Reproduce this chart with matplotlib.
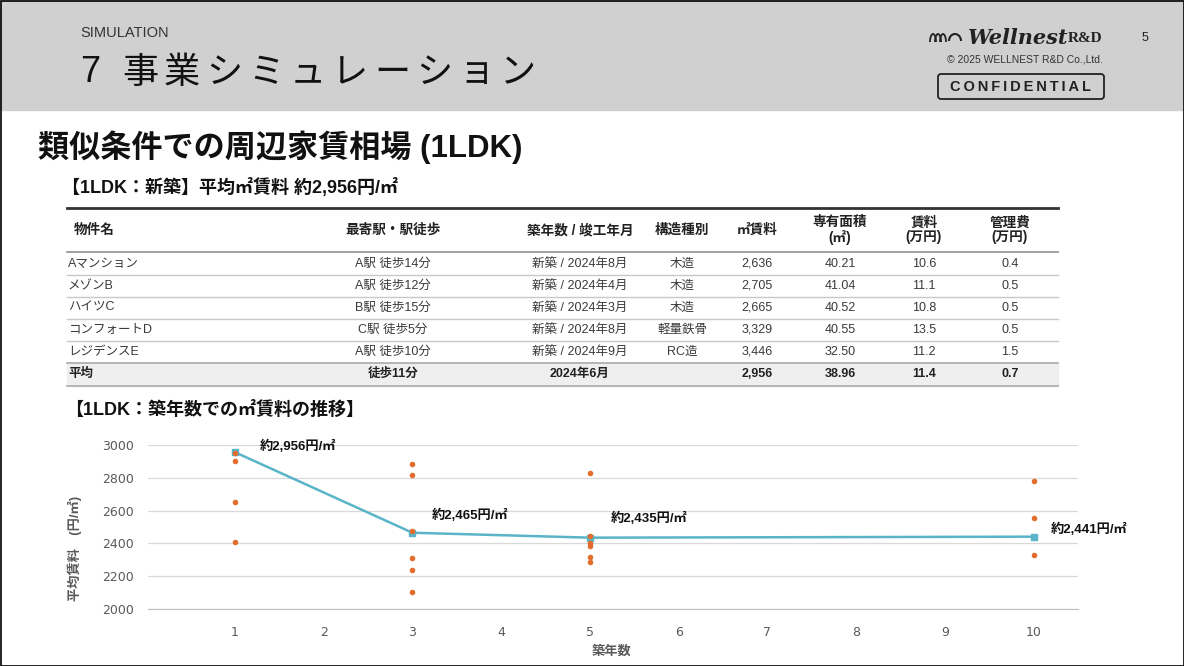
import matplotlib
matplotlib.use('Agg')
import matplotlib.pyplot as plt
from matplotlib.patches import Rectangle, FancyBboxPatch, Arc

plt.rcParams['font.family'] = ['Liberation Sans', 'Noto Sans CJK JP', 'DejaVu Sans']

# table data
col_heads = ['物件名', '最寄駅・駅徒歩', '築年数 / 竣工年月', '構造種別', '㎡賃料',
             '専有面積\n(㎡)', '賃料\n(万円)', '管理費\n(万円)']
names = ['Aマンション', 'メゾンB', 'ハイツC', 'コンフォートD', 'レジデンスE']
stations = ['A駅 徒歩14分', 'A駅 徒歩12分', 'B駅 徒歩15分', 'C駅 徒歩5分', 'A駅 徒歩10分']
built = ['新築 / 2024年8月', '新築 / 2024年4月', '新築 / 2024年3月', '新築 / 2024年8月', '新築 / 2024年9月']
structure = ['木造', '木造', '木造', '軽量鉄骨', 'RC造']
unit_rent = ['2,636', '2,705', '2,665', '3,329', '3,446']
area = ['40.21', '41.04', '40.52', '40.55', '32.50']
rent = ['10.6', '11.1', '10.8', '13.5', '11.2']
fee = ['0.4', '0.5', '0.5', '0.5', '1.5']
avg_row = ['平均', '徒歩11分', '2024年6月', '', '2,956', '38.96', '11.4', '0.7']

# chart data
age_years = [1, 3, 5, 10]
avg_rent = [2956, 2465, 2435, 2441]
avg_labels = ['約2,956円/㎡', '約2,465円/㎡', '約2,435円/㎡', '約2,441円/㎡']
sample_x = [1, 1, 1, 1, 3, 3, 3, 3, 3, 3, 5, 5, 5, 5, 5, 5, 10, 10, 10]
sample_y = [2950, 2900, 2650, 2410,
            2886, 2815, 2475, 2308, 2237, 2101,
            2830, 2446, 2400, 2383, 2315, 2284,
            2779, 2552, 2327]

W, H = 1184, 666
fig = plt.figure(figsize=(W / 100, H / 100), dpi=100)

# slide background in pixel coords
bg = fig.add_axes([0, 0, 1, 1])
bg.set_xlim(0, W)
bg.set_ylim(H, 0)
bg.axis('off')

bg.add_patch(Rectangle((0, 0), W, 110, color='#d0d0d0', zorder=0))
bg.add_patch(Rectangle((0.5, 0.5), W - 1, H - 1, fill=False, ec='black', lw=1.2, zorder=5))

bg.text(80, 33, 'SIMULATION', fontsize=10.5, color='#333333', va='center')
bg.text(80, 73, '7', fontsize=26, color='#111111', va='center')
for i, ch in enumerate('事業シミュレーション'):
    bg.text(122 + i * 42, 73, ch, fontsize=26, color='#111111', va='center',
            family=['Noto Sans CJK JP'])

# logo
for k in range(3):
    bg.add_artist(Arc((933 + k * 5, 42), 6, 16, theta1=180, theta2=360, lw=1.3, color='#222222'))
bg.add_artist(Arc((955, 41), 12, 14, theta1=180, theta2=360, lw=1.5, color='#222222'))
bg.text(968, 38, 'Wellnest', fontsize=15, style='italic', weight='bold',
        family=['DejaVu Serif'], color='#222222', va='center')
bg.text(1068, 39, 'R&D', fontsize=11, weight='bold', family=['Liberation Serif'],
        color='#222222', va='center')
bg.text(1025, 60, '© 2025 WELLNEST R&D Co.,Ltd.', fontsize=7.5, color='#333333',
        ha='center', va='center')
bg.add_patch(FancyBboxPatch((938, 74), 166, 25, boxstyle='round,pad=0,rounding_size=3',
                            fill=False, ec='#222222', lw=1.3))
bg.text(1021, 87, '\u2009'.join('CONFIDENTIAL'), fontsize=10.5, weight='bold',
        color='#222222', ha='center', va='center')
bg.text(1145, 38, '5', fontsize=9, color='#222222', ha='center', va='center')

# titles
bg.text(38, 147, '類似条件での周辺家賃相場 (1LDK)', fontsize=22.4, weight='bold',
        color='#111111', va='center')
bg.text(62, 187, '【1LDK：新築】平均㎡賃料 約2,956円/㎡', fontsize=13, weight='bold',
        color='#111111', va='center')

# table
col_x = [74, 393, 580, 682, 757, 840, 924, 1010]
bg.plot([67, 1058], [208, 208], color='#333333', lw=2)
for j, h in enumerate(col_heads):
    bg.text(col_x[j], 230, h, fontsize=9.8, weight='bold', color='#222222',
            ha='left' if j == 0 else 'center', va='center', linespacing=1.05)
bg.plot([67, 1058], [252, 252], color='#999999', lw=1.3)

rows = list(zip(names, stations, built, structure, unit_rent, area, rent, fee))
for i, r in enumerate(rows):
    y = 264 + 22 * i
    for j, v in enumerate(r):
        bg.text(68 if j == 0 else col_x[j], y, v, fontsize=9, color='#3a3a3a',
                ha='left' if j == 0 else 'center', va='center')
    if i < len(rows) - 1:
        bg.plot([67, 1058], [y + 11, y + 11], color='#c8c8c8', lw=1)

bg.add_patch(Rectangle((67, 363), 991, 23, color='#efefef', zorder=0.5))
bg.plot([67, 1058], [363, 363], color='#aaaaaa', lw=1.2)
bg.plot([67, 1058], [386, 386], color='#aaaaaa', lw=1.2)
for j, v in enumerate(avg_row):
    bg.text(68 if j == 0 else col_x[j], 374, v, fontsize=9, weight='bold', color='#222222',
            ha='left' if j == 0 else 'center', va='center')

bg.text(65, 410, '【1LDK：築年数での㎡賃料の推移】', fontsize=13, weight='bold',
        color='#111111', va='center')

# chart
ax = fig.add_axes([148 / W, 57 / H, 930 / W, 164 / H])
ax.set_facecolor('none')
ax.plot(age_years, avg_rent, color='#5ab4c9', lw=1.8, marker='s', markersize=4, zorder=2)
ax.scatter(sample_x, sample_y, color='#e46c2c', s=16, zorder=3, linewidths=0)
for x, y, lab in zip(age_years, avg_rent, avg_labels):
    off = {1: (25, 6), 3: (19, 17), 5: (21, 19), 10: (17, 7)}[x]
    ax.annotate(lab, (x, y), xytext=off, textcoords='offset pixels', fontsize=9.5,
                weight='bold', color='#111111', va='center', ha='left', annotation_clip=False)

ax.set_xlim(0.02, 10.5)
ax.set_ylim(2000, 3000)
ax.set_xticks(range(1, 11))
ax.set_yticks(range(2000, 3001, 200))
ax.grid(axis='y', color='#d9d9d9', lw=0.9)
ax.set_axisbelow(True)
for s in ['top', 'right', 'left']:
    ax.spines[s].set_visible(False)
ax.spines['bottom'].set_color('#bfbfbf')
ax.tick_params(length=0, labelcolor='#595959', labelsize=9)
ax.tick_params(axis='x', pad=12)
ax.tick_params(axis='y', pad=10)
for t in ax.get_xticklabels() + ax.get_yticklabels():
    t.set_family(['DejaVu Sans'])

fig.text(75 / W, 1 - 548 / H, '平均賃料　(円/㎡)', rotation=90, fontsize=9.5, weight='bold',
         color='#595959', ha='center', va='center')
fig.text(612 / W, 1 - 651 / H, '築年数', fontsize=9.5, weight='bold', color='#595959',
         ha='center', va='center')

fig.savefig('out.png', dpi=100)
